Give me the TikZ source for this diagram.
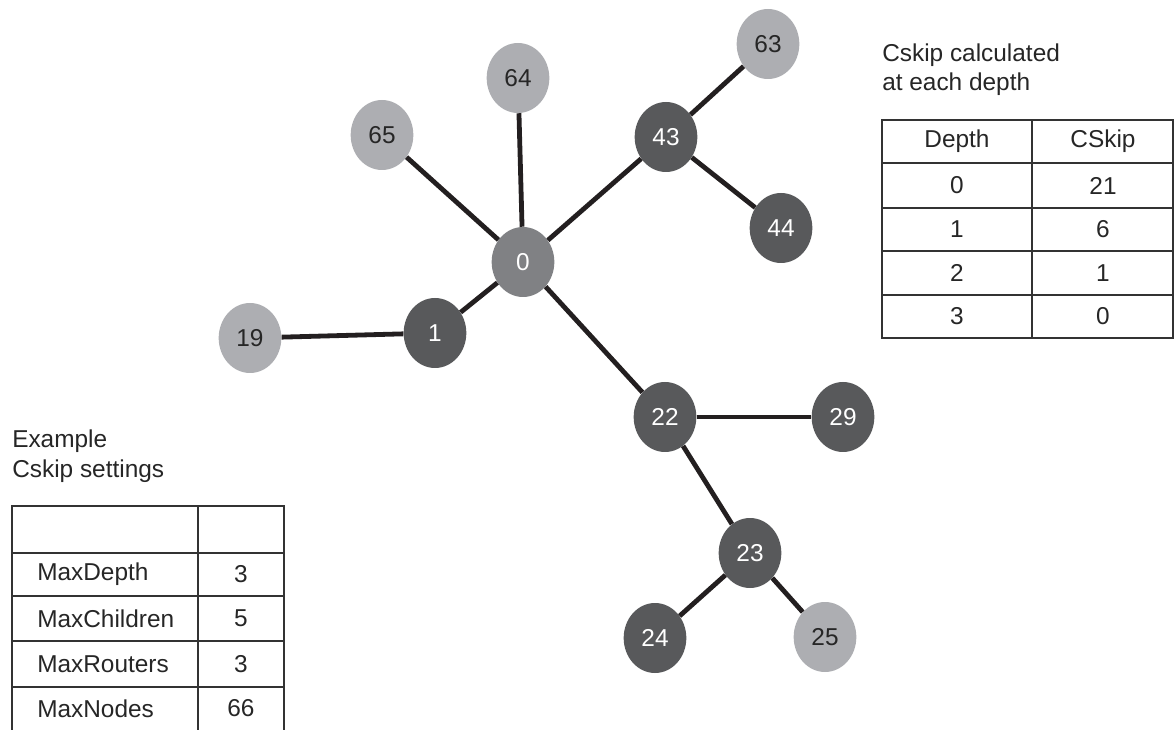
\documentclass[tikz,border=0pt]{standalone}
\usepackage{fontspec}
\setmainfont{Liberation Sans}
\usetikzlibrary{shapes.geometric}
\definecolor{leafgray}{HTML}{ADAEB2}
\definecolor{rootgray}{HTML}{808184}
\definecolor{routergray}{HTML}{58595B}
\definecolor{linkblack}{HTML}{231F20}
\definecolor{textgray}{HTML}{262626}
\definecolor{rulegray}{HTML}{333333}
\begin{document}
\begin{tikzpicture}[x=0.75pt,y=-0.75pt,
    dev/.style={ellipse,minimum width=47pt,minimum height=52.5pt,inner sep=0pt,
      font=\fontsize{18.3}{21}\selectfont},
    leaf/.style={dev,fill=leafgray,text=textgray},
    root/.style={dev,fill=rootgray,text=white},
    router/.style={dev,fill=routergray,text=white},
    link/.style={draw=linkblack,line width=3.6pt},
    grid/.style={draw=rulegray,line width=1.5pt},
    cell/.style={inner sep=0pt,text=textgray,font=\fontsize{18.3}{21}\selectfont},
    title/.style={cell,anchor=base west}]
  \useasboundingbox (0,0) rectangle (1174,730);
  \draw
    (523,262) node[root] (0){0}
    (435,333) node[router] (1){1}
    (250,338) node[leaf] (19){19}
    (382,135) node[leaf] (65){65}
    (518,78) node[leaf] (64){64}
    (666,137) node[router] (43){43}
    (768,44) node[leaf] (63){63}
    (781,228) node[router] (44){44}
    (665,417) node[router] (22){22}
    (843,417) node[router] (29){29}
    (750,553) node[router] (23){23}
    (655,638) node[router] (24){24}
    (825,637) node[leaf] (25){25};
  \begin{scope}[link]
    \draw (0) to (65);
    \draw (0) to (64);
    \draw (0) to (43);
    \draw (43) to (63);
    \draw (43) to (44);
    \draw (0) to (1);
    \draw (1) to (19);
    \draw (0) to (22);
    \draw (22) to (29);
    \draw (22) to (23);
    \draw (23) to (24);
    \draw (23) to (25);
  \end{scope}
  % depth table
  \node[title] (depthtitle1) at (882,62) {Cskip calculated};
  \node[title] (depthtitle2) at (882,91) {at each depth};
  \draw[grid] (882,120) rectangle (1173,338);
  \draw[grid] (1032,120) -- (1032,338);
  \foreach \y in {163,208,251,295}
    \draw[grid] (882,\y) -- (1173,\y);
  \node[cell] (depthhead) at (957,141.5) {Depth};
  \node[cell] (cskiphead) at (1103,141.5) {CSkip};
  \foreach \d/\c/\y in {0/21/185.5,1/6/229.5,2/1/273,3/0/316.5} {
    \node[cell] (depth\d) at (957,\y) {\d};
    \node[cell] (cskip\d) at (1103,\y) {\c};
  }
  % settings table
  \node[title] (settitle1) at (12,448) {Example};
  \node[title] (settitle2) at (12,478) {Cskip settings};
  \draw[grid] (12,730) -- (12,506) -- (284,506) -- (284,730);
  \draw[grid] (198,506) -- (198,730);
  \foreach \y in {553,596,641,687}
    \draw[grid] (12,\y) -- (284,\y);
  \foreach \n/\v/\y in {MaxDepth/3/574.5,MaxChildren/5/618.5,MaxRouters/3/664,MaxNodes/66/708.5} {
    \node[cell,anchor=west] (name\n) at (37,\y) {\n};
    \node[cell] (value\n) at (241,\y) {\v};
  }
\end{tikzpicture}
\end{document}
